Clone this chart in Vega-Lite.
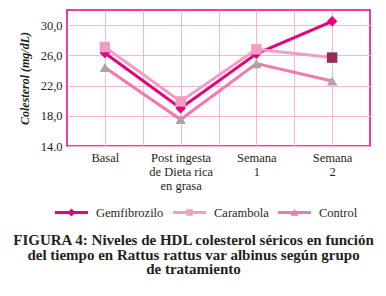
{
  "$schema": "https://vega.github.io/schema/vega-lite/v6.json",
  "autosize": "none",
  "width": 303,
  "height": 136,
  "padding": {"left": 67, "top": 10, "right": 16, "bottom": 150},
  "background": "white",
  "config": {
    "font": "Liberation Serif",
    "view": {"stroke": "#E6007E", "strokeWidth": 1.5},
    "axis": {"gridColor": "#F7B5D1", "gridWidth": 1, "gridOpacity": 1, "labelColor": "#231F20", "titleColor": "#231F20", "labelFont": "Liberation Serif", "titleFont": "Liberation Serif"}
  },
  "title": {
    "text": ["FIGURA 4: Niveles de HDL colesterol séricos en función", "del tiempo en Rattus rattus var albinus según grupo", "de tratamiento"],
    "orient": "bottom",
    "anchor": "middle",
    "dx": -25,
    "offset": 14,
    "font": "Liberation Serif",
    "fontSize": 15,
    "fontWeight": "bold",
    "lineHeight": 14.5,
    "color": "#231F20"
  },
  "data": {
    "values": [
      {"tiempo": "Basal", "t": 1, "serie": "Gemfibrozilo", "valor": 26.3},
      {"tiempo": "Post", "t": 2, "serie": "Gemfibrozilo", "valor": 19.0},
      {"tiempo": "Semana 1", "t": 3, "serie": "Gemfibrozilo", "valor": 26.2},
      {"tiempo": "Semana 2", "t": 4, "serie": "Gemfibrozilo", "valor": 30.5},
      {"tiempo": "Basal", "t": 1, "serie": "Carambola", "valor": 27.1},
      {"tiempo": "Post", "t": 2, "serie": "Carambola", "valor": 19.9},
      {"tiempo": "Semana 1", "t": 3, "serie": "Carambola", "valor": 26.8},
      {"tiempo": "Semana 2", "t": 4, "serie": "Carambola", "valor": 25.7},
      {"tiempo": "Basal", "t": 1, "serie": "Control", "valor": 24.4},
      {"tiempo": "Post", "t": 2, "serie": "Control", "valor": 17.5},
      {"tiempo": "Semana 1", "t": 3, "serie": "Control", "valor": 24.9},
      {"tiempo": "Semana 2", "t": 4, "serie": "Control", "valor": 22.6}
    ]
  },
  "encoding": {
    "x": {
      "field": "t", "type": "quantitative",
      "scale": {"domain": [0.5, 4.5], "nice": false, "zero": false},
      "axis": {
        "title": null, "domain": false, "ticks": false,
        "values": [1, 1.5, 2, 2.5, 3, 3.5, 4],
        "labelExpr": "datum.value == 1 ? 'Basal' : datum.value == 2 ? ['Post ingesta', 'de Dieta rica', 'en grasa'] : datum.value == 3 ? ['Semana', '1'] : datum.value == 4 ? ['Semana', '2'] : ''",
        "labelFontSize": 12.5, "labelLineHeight": 14, "labelPadding": 5, "labelBaseline": "top", "labelFlush": false, "labelOverlap": false
      }
    },
    "y": {
      "field": "valor", "type": "quantitative",
      "scale": {"domain": [14, 32], "nice": false, "zero": false},
      "axis": {
        "title": "Colesterol (mg/dL)", "titleFontStyle": "italic", "titleFontWeight": "bold", "titleFontSize": 12, "titlePadding": 9,
        "domain": false, "ticks": false,
        "values": [14, 18, 22, 26, 30],
        "labelExpr": "datum.value == 14 ? '14.0' : replace(format(datum.value, '.1f'), '.', ',')",
        "labelFontSize": 12.5, "labelPadding": 5
      }
    }
  },
  "layer": [
    {
      "transform": [{"filter": "datum.serie === 'Control'"}],
      "mark": {"type": "line", "strokeWidth": 3, "color": "#F07AAC"},
      "encoding": {}
    },
    {
      "transform": [{"filter": "datum.serie === 'Gemfibrozilo'"}],
      "mark": {"type": "line", "strokeWidth": 3, "color": "#E6007E"},
      "encoding": {}
    },
    {
      "transform": [{"filter": "datum.serie === 'Carambola'"}],
      "mark": {"type": "line", "strokeWidth": 3, "color": "#F59CC4"},
      "encoding": {}
    },
    {
      "transform": [{"filter": "datum.serie === 'Control'"}],
      "mark": {"type": "point", "filled": true, "opacity": 1, "size": 110, "shape": "triangle-up", "color": "#A7A7A9"}
    },
    {
      "transform": [{"filter": "datum.serie === 'Gemfibrozilo'"}],
      "mark": {"type": "point", "filled": true, "opacity": 1, "size": 110, "shape": "diamond", "color": "#E6007E"}
    },
    {
      "transform": [{"filter": "datum.serie === 'Carambola'"}],
      "mark": {"type": "point", "filled": true, "opacity": 1, "size": 110, "shape": "square"},
      "encoding": {
        "color": {"condition": {"test": "datum.t === 4", "value": "#9B2A5C"}, "value": "#F59CC4"}
      }
    },
    {
      "transform": [{"filter": "false"}],
      "mark": {"type": "point", "filled": true},
      "encoding": {
        "color": {
          "field": "serie", "type": "nominal",
          "scale": {"domain": ["Gemfibrozilo", "Carambola", "Control"], "range": ["#E6007E", "#F59CC4", "#F07AAC"]},
          "legend": {
            "title": null, "orient": "none", "direction": "horizontal",
            "legendX": -12, "legendY": 186,
            "symbolSize": 1089, "symbolStrokeWidth": 0, "symbolOpacity": 1,
            "labelFontSize": 12.5, "labelColor": "#231F20", "labelOffset": 8, "columnPadding": 9
          }
        },
        "shape": {
          "field": "serie", "type": "nominal",
          "scale": {"domain": ["Gemfibrozilo", "Carambola", "Control"], "range": [
            "M-1,-0.09H1V0.09H-1Z M0,-0.24L0.24,0L0,0.24L-0.24,0Z",
            "M-1,-0.09H1V0.09H-1Z M-0.2,-0.2H0.2V0.2H-0.2Z",
            "M-1,-0.09H1V0.09H-1Z M0,-0.22L0.24,0.2H-0.24Z"
          ]},
          "legend": {
            "title": null, "orient": "none", "direction": "horizontal",
            "legendX": -12, "legendY": 186,
            "symbolSize": 1089, "symbolStrokeWidth": 0, "symbolOpacity": 1,
            "labelFontSize": 12.5, "labelColor": "#231F20", "labelOffset": 8, "columnPadding": 9
          }
        }
      }
    }
  ]
}
